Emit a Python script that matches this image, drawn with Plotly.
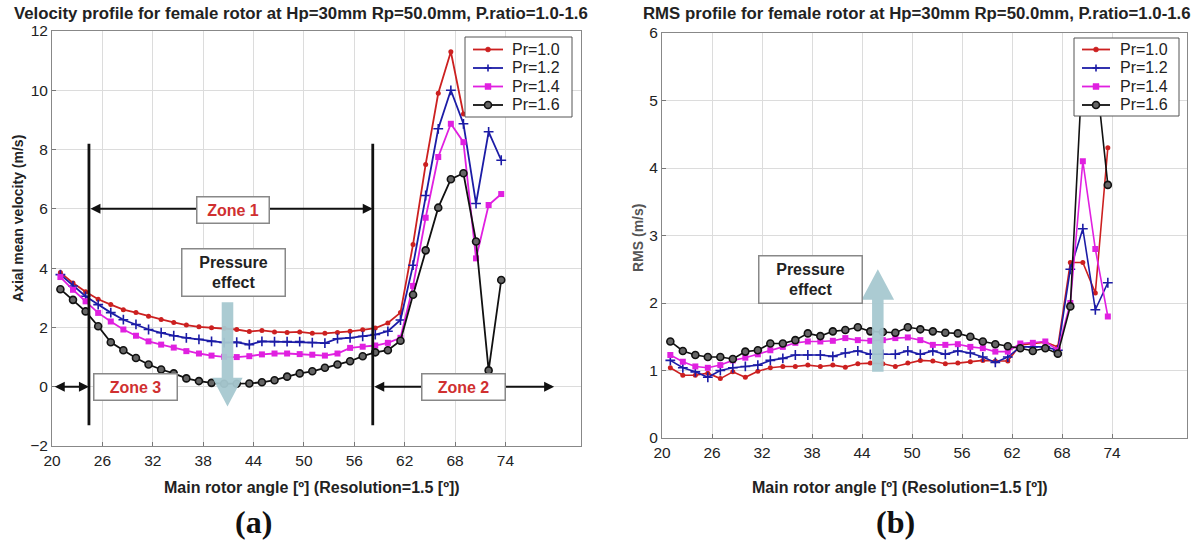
import plotly.graph_objects as go

# ---------------- data ----------------
angle = [21.0 + 1.5 * i for i in range(36)]
series_names = ["Pr=1.0", "Pr=1.2", "Pr=1.4", "Pr=1.6"]

vel_pr10 = [3.85, 3.5, 3.2, 2.95, 2.77, 2.6, 2.5, 2.38, 2.27, 2.17, 2.08, 2.02, 1.99, 1.97, 1.93, 1.86,
            1.9, 1.85, 1.83, 1.85, 1.8, 1.8, 1.83, 1.87, 1.92, 1.98, 2.15, 2.5, 4.8, 7.5, 9.9, 11.3,
            9.2, None, None, None]
vel_pr12 = [3.78, 3.4, 3.05, 2.77, 2.5, 2.26, 2.1, 1.93, 1.82, 1.72, 1.65, 1.6, 1.53, 1.49, 1.5, 1.42,
            1.53, 1.52, 1.52, 1.52, 1.49, 1.47, 1.62, 1.65, 1.7, 1.76, 1.87, 2.25, 4.1, 6.45, 8.7, 10.0,
            8.87, 6.18, 8.6, 7.64]
vel_pr14 = [3.7, 3.27, 2.88, 2.49, 2.2, 1.93, 1.72, 1.53, 1.42, 1.32, 1.2, 1.12, 1.05, 1.01, 1.0, 1.03,
            1.09, 1.12, 1.12, 1.1, 1.08, 1.05, 1.12, 1.31, 1.35, 1.39, 1.48, 1.65, 3.4, 5.7, 7.75, 8.87,
            8.25, 4.33, 6.13, 6.5]
vel_pr16 = [3.29, 2.93, 2.54, 2.04, 1.5, 1.23, 0.97, 0.75, 0.58, 0.45, 0.28, 0.19, 0.13, 0.1, 0.1, 0.11,
            0.15, 0.22, 0.34, 0.45, 0.52, 0.64, 0.75, 0.86, 1.03, 1.16, 1.23, 1.55, 3.1, 4.6, 6.04, 7.0,
            7.2, 4.9, 0.55, 3.6]

rms_pr10 = [1.04, 0.93, 0.93, 0.96, 0.88, 0.98, 0.9, 0.99, 1.04, 1.06, 1.06, 1.08, 1.06, 1.08, 1.05, 1.1,
            1.11, 1.1, 1.06, 1.11, 1.15, 1.14, 1.1, 1.11, 1.13, 1.15, 1.14, 1.14, 1.38, 1.4, 1.42, 1.35,
            2.6, 2.6, 2.15, 4.3]
rms_pr12 = [1.15, 1.04, 0.98, 0.9, 1.0, 1.04, 1.06, 1.08, 1.15, 1.18, 1.23, 1.23, 1.23, 1.21, 1.26, 1.29,
            1.24, 1.24, 1.24, 1.29, 1.24, 1.29, 1.24, 1.29, 1.26, 1.2, 1.12, 1.2, 1.35, 1.35, 1.35, 1.3,
            2.5, 3.1, 1.9, 2.3]
rms_pr14 = [1.23, 1.13, 1.06, 1.04, 1.08, 1.15, 1.19, 1.24, 1.3, 1.35, 1.41, 1.43, 1.43, 1.44, 1.48, 1.45,
            1.44, 1.45, 1.48, 1.49, 1.45, 1.38, 1.38, 1.39, 1.35, 1.33, 1.28, 1.28, 1.4, 1.41, 1.43, 1.3,
            2.0, 4.1, 2.8, 1.8]
rms_pr16 = [1.43, 1.29, 1.23, 1.2, 1.2, 1.17, 1.28, 1.3, 1.4, 1.4, 1.45, 1.55, 1.51, 1.58, 1.6, 1.64,
            1.58, 1.57, 1.56, 1.64, 1.61, 1.58, 1.56, 1.55, 1.5, 1.43, 1.39, 1.36, 1.33, 1.29, 1.33, 1.25,
            1.95, 5.6, 5.5, 3.75]

x_ticks = [20, 26, 32, 38, 44, 50, 56, 62, 68, 74]
vel_ticks = [-2, 0, 2, 4, 6, 8, 10, 12]
rms_ticks = [0, 1, 2, 3, 4, 5, 6]

# ---------------- styles ----------------
colors = ["#cc2020", "#1c1ca6", "#e020e0", "#111111"]
markers = [
    dict(symbol="circle", size=5, color=colors[0]),
    dict(symbol="cross-thin", size=7, line=dict(width=1.6, color=colors[1])),
    dict(symbol="square", size=6, color=colors[2]),
    dict(symbol="circle", size=7, color="#666666", line=dict(width=1.6, color=colors[3])),
]

W, H = 1201, 540
def px(x):
    return x / W
def py(y):
    return 1 - y / H

fig = go.Figure()
for name, ys, c, m in zip(series_names, [vel_pr10, vel_pr12, vel_pr14, vel_pr16], colors, markers):
    fig.add_trace(go.Scatter(x=angle, y=ys, name=name, mode="lines+markers", showlegend=False,
                             line=dict(color=c, width=1.8), marker=m, xaxis="x", yaxis="y"))
for name, ys, c, m in zip(series_names, [rms_pr10, rms_pr12, rms_pr14, rms_pr16], colors, markers):
    fig.add_trace(go.Scatter(x=angle, y=ys, name=name, mode="lines+markers", showlegend=False,
                             line=dict(color=c, width=1.6), marker=m, xaxis="x2", yaxis="y2"))

FONT = "Liberation Sans, Arial, sans-serif"
axis_common = dict(showgrid=True, gridcolor="#dcdcdc", gridwidth=1, zeroline=False,
                   showline=True, linecolor="#888888", linewidth=1, mirror=True,
                   ticks="inside", ticklen=4, tickcolor="#777777", automargin=False,
                   tickfont=dict(family=FONT, size=15.5, color="#222222"))

fig.update_layout(
    width=W, height=H, margin=dict(l=0, r=0, t=0, b=0, autoexpand=False),
    paper_bgcolor="white", plot_bgcolor="white", showlegend=False,
    font=dict(family=FONT, color="#222222"),
    xaxis=dict(domain=[px(52), px(581)], range=[20, 83], tickvals=x_ticks, anchor="y", **axis_common),
    yaxis=dict(domain=[py(446), py(31)], range=[-2, 12], tickvals=vel_ticks, anchor="x", **axis_common),
    xaxis2=dict(domain=[px(662), px(1187)], range=[20, 83], tickvals=x_ticks, anchor="y2", **axis_common),
    yaxis2=dict(domain=[py(438), py(33)], range=[0, 6], tickvals=rms_ticks, anchor="x2", **axis_common),
)

ann = []
def paper_text(text, x, y, size, color="#222", family=FONT, angle=0, xanchor="center"):
    return dict(text=text, x=px(x), y=py(y), xref="paper", yref="paper", xanchor=xanchor,
                yanchor="middle", showarrow=False, textangle=angle,
                font=dict(family=family, size=size, color=color))

ann.append(paper_text("<b>Velocity profile for female rotor at Hp=30mm Rp=50.0mm, P.ratio=1.0-1.6</b>", 301, 14, 16.8))
ann.append(paper_text("<b>RMS profile for female rotor at Hp=30mm Rp=50.0mm, P.ratio=1.0-1.6</b>", 917, 14, 16.8))
ann.append(paper_text("<b>Main rotor angle [º] (Resolution=1.5 [º])</b>", 312, 487, 16))
ann.append(paper_text("<b>Main rotor angle [º] (Resolution=1.5 [º])</b>", 900, 487, 16))
ann.append(paper_text("<b>Axial mean velocity (m/s)</b>", 18, 219, 14, angle=-90))
ann.append(paper_text("<b>RMS (m/s)</b>", 638, 238, 14, color="#555", angle=-90))
SERIF = "Liberation Serif, Times New Roman, serif"
ann.append(paper_text("<b>(a)</b>", 253, 522, 32, color="#111", family=SERIF))
ann.append(paper_text("<b>(b)</b>", 895, 522, 32, color="#111", family=SERIF))

# zone arrows (left)
zone_l, zone_r = 24.4, 58.2
for (x0, x1, yv) in [(zone_l, zone_r, 6), (20.15, zone_l, 0), (zone_r, 79.8, 0)]:
    ann.append(dict(x=x1, y=yv, ax=x0, ay=yv, xref="x", yref="y", axref="x", ayref="y", text="",
                    showarrow=True, arrowhead=2, arrowside="end+start", arrowsize=1, arrowwidth=2,
                    arrowcolor="#111"))
zone_box = dict(xref="x", yref="y", showarrow=False, bgcolor="white", bordercolor="#888888",
                xanchor="center", yanchor="middle", height=19,
                borderwidth=1.5, borderpad=3, font=dict(family=FONT, size=16, color="#d03030"))
ann.append(dict(text="<b>Zone 1</b>", x=41.6, y=5.95, width=65, **zone_box))
ann.append(dict(text="<b>Zone 3</b>", x=29.9, y=0, width=76, **zone_box))
ann.append(dict(text="<b>Zone 2</b>", x=69.0, y=0, width=76, **zone_box))
press_box = dict(showarrow=False, bgcolor="white", bordercolor="#888888", borderwidth=1.5, borderpad=3,
                 xanchor="center", yanchor="middle", width=96, height=40,
                 font=dict(family=FONT, size=16, color="#222"))
ann.append(dict(text="<b>Pressure<br>effect</b>", x=41.6, y=3.84, xref="x", yref="y", **press_box))
ann.append(dict(text="<b>Pressure<br>effect</b>", x=37.8, y=2.35, xref="x2", yref="y2", **press_box))

shapes = []
for xv in (zone_l, zone_r):
    shapes.append(dict(type="line", xref="x", yref="y", x0=xv, x1=xv, y0=-1.3, y1=8.2,
                       line=dict(color="#111", width=2.8)))
# down arrow (left)
cx = 40.9
shapes.append(dict(type="path", xref="x", yref="y", layer="above", fillcolor="#a6c8d0",
                   line=dict(width=0), opacity=0.95,
                   path=f"M {cx-0.69},2.85 L {cx+0.69},2.85 L {cx+0.69},0.3 L {cx+1.8},0.3 "
                        f"L {cx},-0.67 L {cx-1.8},0.3 L {cx-0.69},0.3 Z"))
# up arrow (right)
cx2 = 45.9
shapes.append(dict(type="path", xref="x2", yref="y2", layer="above", fillcolor="#a6c8d0",
                   line=dict(width=0), opacity=0.95,
                   path=f"M {cx2-0.69},0.98 L {cx2+0.69},0.98 L {cx2+0.69},2.05 L {cx2+1.95},2.05 "
                        f"L {cx2},2.5 L {cx2-1.95},2.05 L {cx2-0.69},2.05 Z"))

# legend boxes (drawn as decorations above the traces)
def legend(box, line_x, text_x, centers):
    x0, x1, y0, y1 = box
    shapes.append(dict(type="rect", xref="paper", yref="paper", layer="above",
                       x0=px(x0), x1=px(x1), y0=py(y1), y1=py(y0),
                       line=dict(color="#555555", width=1), fillcolor="white"))
    mx = (line_x[0] + line_x[1]) / 2
    for name, c, m, yc in zip(series_names, colors, markers, centers):
        shapes.append(dict(type="line", xref="paper", yref="paper", layer="above",
                           x0=px(line_x[0]), x1=px(line_x[1]), y0=py(yc), y1=py(yc),
                           line=dict(color=c, width=1.8)))
        r = m["size"] / 2
        if m["symbol"] == "cross-thin":
            shapes.append(dict(type="path", xref="paper", yref="paper", layer="above",
                               path=f"M {px(mx-r)},{py(yc)} L {px(mx+r)},{py(yc)} "
                                    f"M {px(mx)},{py(yc-r)} L {px(mx)},{py(yc+r)}",
                               line=dict(color=c, width=1.6)))
        else:
            kind = "rect" if m["symbol"] == "square" else "circle"
            lc = m.get("line", {}).get("color", c)
            lw = m.get("line", {}).get("width", 0.5)
            shapes.append(dict(type=kind, xref="paper", yref="paper", layer="above",
                               x0=px(mx - r), x1=px(mx + r), y0=py(yc + r), y1=py(yc - r),
                               fillcolor=m["color"], line=dict(color=lc, width=lw)))
        ann.append(paper_text(name, text_x, yc, 16, xanchor="left"))

legend((465, 572, 37, 117), (473, 503), 510, [49.5, 68, 86.5, 105])
legend((1074, 1179, 38, 116), (1082, 1110), 1118, [49.5, 68, 86.5, 105])

fig.update_layout(annotations=ann, shapes=shapes)

fig.write_html("out.html", config={"displayModeBar": False},
               post_script="document.body.style.margin='0';document.body.style.overflow='hidden';")
